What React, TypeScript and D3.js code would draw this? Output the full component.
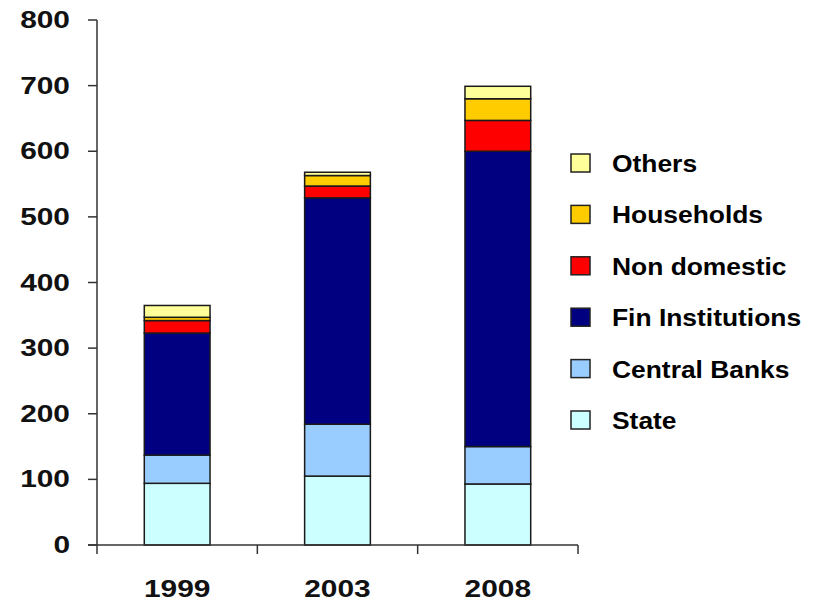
import React from "react";
import * as d3 from "d3";

// Holdings by sector (stacked bottom to top)
const years = ["1999", "2003", "2008"];
const state = [94, 105, 93];
const centralBanks = [43, 79, 57];
const finInstitutions = [186, 345, 450];
const nonDomestic = [19, 18, 47];
const households = [5, 16, 33];
const others = [18, 5, 19];

const seriesNames = ["State", "Central Banks", "Fin Institutions", "Non domestic", "Households", "Others"];
const seriesValues = [state, centralBanks, finInstitutions, nonDomestic, households, others];
const seriesColors = ["#CCFFFF", "#99CCFF", "#000080", "#FF0000", "#FFCC00", "#FFFF99"];
const yTicks = [0, 100, 200, 300, 400, 500, 600, 700, 800];

const W = 813;
const H = 606;
const FONT = "Arial, 'Liberation Sans', sans-serif";

export default function App() {
  const x = d3.scaleBand<string>().domain(years).range([97, 578]).paddingInner(0.59).paddingOuter(0.295);
  const y = d3.scaleLinear().domain([0, 800]).range([545, 20]);

  const table = years.map((yr, i) => {
    const row: Record<string, number | string> = { year: yr };
    seriesNames.forEach((n, k) => (row[n] = seriesValues[k][i]));
    return row;
  });
  const stacked = d3.stack<any>().keys(seriesNames)(table);

  const step = x.step();
  const catEdges = years.map((yr) => (x(yr) as number) - x.paddingOuter() * step + step);

  // legend, listed top-down in reverse stack order
  const legendItems = seriesNames.map((n, k) => ({ n, c: seriesColors[k] })).reverse();

  return (
    <svg width={W} height={H} style={{ position: "absolute", left: 0, top: 0, background: "#fff" }}>
      {/* bars */}
      {stacked.map((layer, k) =>
        layer.map((d, i) => (
          <rect
            key={`${k}-${i}`}
            x={x(years[i])}
            y={y(d[1])}
            width={x.bandwidth()}
            height={y(d[0]) - y(d[1])}
            fill={seriesColors[k]}
            stroke="#1a1a1a"
            strokeWidth={1.5}
          />
        ))
      )}

      {/* y axis */}
      <line x1={97} x2={97} y1={y(800)} y2={y(0) + 9} stroke="#333" strokeWidth={1.5} />
      {yTicks.map((t) => (
        <g key={t}>
          <line x1={88} x2={97} y1={y(t)} y2={y(t)} stroke="#333" strokeWidth={1.5} />
          <text
            transform={`translate(70,${y(t) + 8}) scale(1.3,1)`}
            textAnchor="end"
            fontFamily={FONT}
            fontWeight="bold"
            fontSize={23}
            fill="#111"
          >
            {t}
          </text>
        </g>
      ))}

      {/* x axis */}
      <line x1={88} x2={578} y1={y(0)} y2={y(0)} stroke="#333" strokeWidth={1.5} />
      {catEdges.map((cx, i) => (
        <line key={i} x1={cx} x2={cx} y1={y(0)} y2={y(0) + 9} stroke="#333" strokeWidth={1.5} />
      ))}
      {years.map((yr) => (
        <text
          key={yr}
          transform={`translate(${(x(yr) as number) + x.bandwidth() / 2},597) scale(1.3,1)`}
          textAnchor="middle"
          fontFamily={FONT}
          fontWeight="bold"
          fontSize={23}
          fill="#111"
        >
          {yr}
        </text>
      ))}

      {/* legend */}
      {legendItems.map((it, i) => {
        const base = 172 + i * 51.4;
        return (
          <g key={it.n}>
            <rect x={571} y={base - 18} width={19} height={18} fill={it.c} stroke="#222" strokeWidth={1.5} />
            <text
              transform={`translate(612,${base}) scale(1.1,1)`}
              fontFamily={FONT}
              fontWeight="bold"
              fontSize={24}
              fill="#000"
            >
              {it.n}
            </text>
          </g>
        );
      })}
    </svg>
  );
}
